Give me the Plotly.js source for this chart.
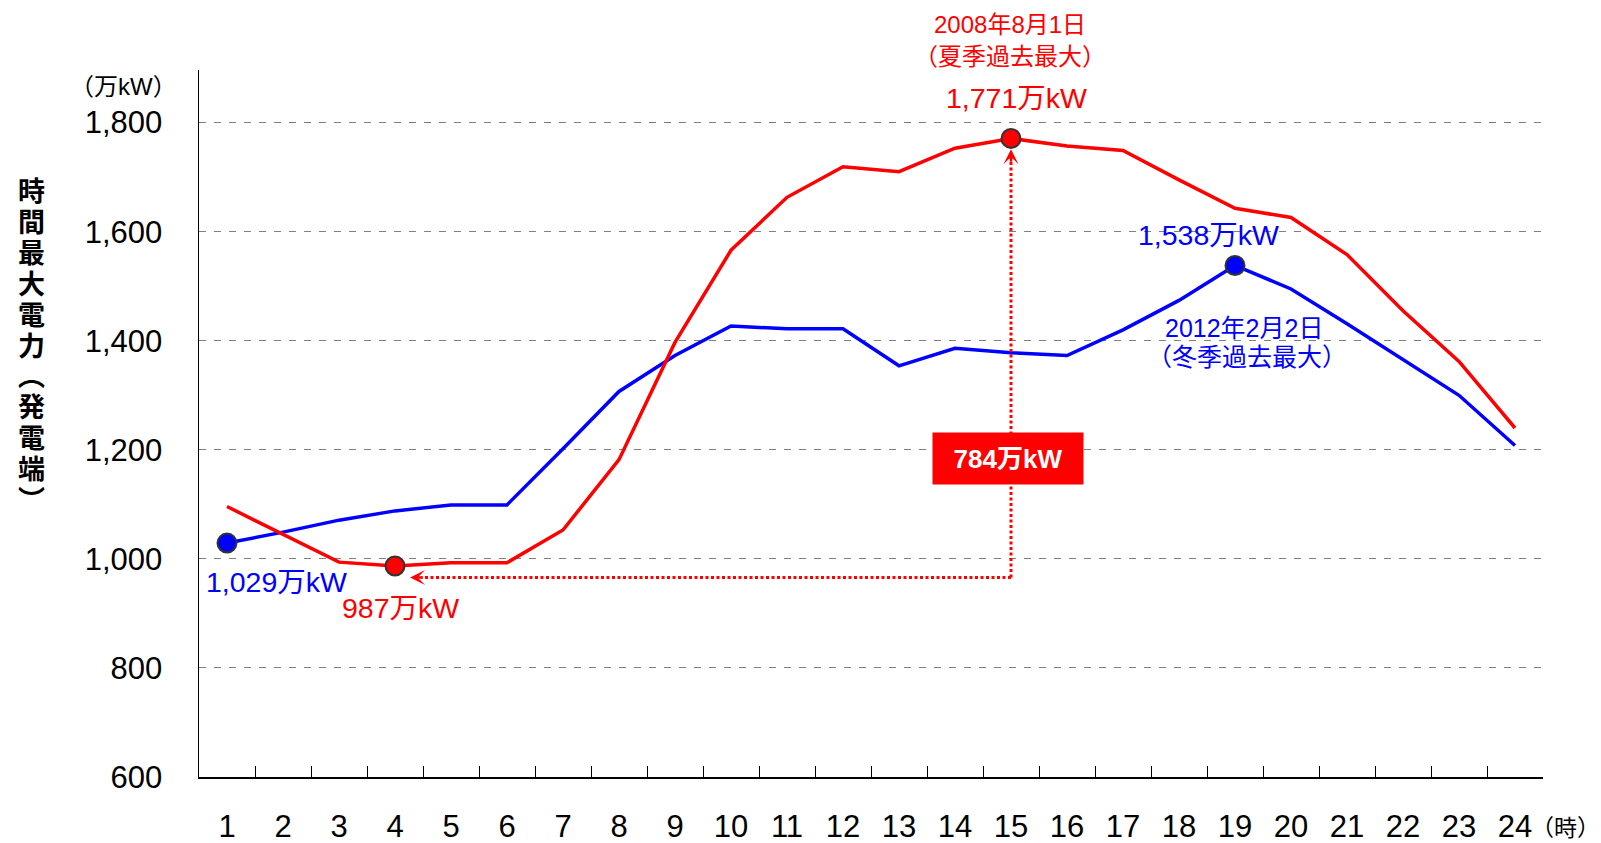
<!DOCTYPE html>
<html>
<head>
<meta charset="utf-8">
<script src="https://cdn.plot.ly/plotly-3.0.1.min.js"></script>
<style>html,body{margin:0;padding:0;background:#fff;}#chart{width:1601px;height:843px;}</style>
</head>
<body>
<div id="chart"></div>
<script>
// ---- data ----
const hours = [1,2,3,4,5,6,7,8,9,10,11,12,13,14,15,16,17,18,19,20,21,22,23,24];
const summer2008 = [1096,1045,994,987,993,993,1053,1182,1397,1566,1663,1719,1710,1753,1771,1757,1749,1695,1643,1626,1558,1455,1362,1240];
const winter2012 = [1029,1049,1071,1088,1099,1099,1202,1307,1373,1427,1422,1422,1354,1386,1378,1373,1420,1474,1538,1495,1431,1365,1300,1208];
const yTickVals = [600,800,1000,1200,1400,1600,1800];
const summerDate = ['2008年8月1日','（夏季過去最大）'];
const winterDate = ['2012年2月2日','（冬季過去最大）'];
const yTitleChars = ['時','間','最','大','電','力','︵','発','電','端','︶'];
const unitLabel = '（万kW）';
const hourUnit = '（時）';
const unitSuffix = '万kW';
const arrowBaseValue = 966;   // level of the dotted horizontal guide
const arrowLeftTip = 4.27;    // hour position of left arrow tip

// ---- derived ----
const argmax = a => a.indexOf(Math.max(...a));
const argmin = a => a.indexOf(Math.min(...a));
const fmt = v => v.toLocaleString('en-US') + unitSuffix;
const sMax = argmax(summer2008), sMin = argmin(summer2008);
const wMax = argmax(winter2012), wMin = argmin(winter2012);
const diff = summer2008[sMax] - summer2008[sMin];

const FONT = "'Liberation Sans', Arial, 'Noto Sans CJK JP', sans-serif";
const L = 199, R = 1543, T = 70, B = 777;
const px = (x, y) => ({x: (x - L) / (R - L), y: (B - y) / (B - T), xref: 'paper', yref: 'paper'});
const RED = '#ff0000', BLUE = '#0000ff';

const traces = [
  {x: hours, y: winter2012, mode: 'lines', line: {color: BLUE, width: 3.5}, hoverinfo: 'x+y', showlegend: false},
  {x: hours, y: summer2008, mode: 'lines', line: {color: RED, width: 3.5}, hoverinfo: 'x+y', showlegend: false},
  {x: [hours[wMin], hours[wMax]], y: [winter2012[wMin], winter2012[wMax]], mode: 'markers',
   marker: {color: BLUE, size: 19, line: {color: '#333333', width: 2}}, showlegend: false},
  {x: [hours[sMin], hours[sMax]], y: [summer2008[sMin], summer2008[sMax]], mode: 'markers',
   marker: {color: RED, size: 19, line: {color: '#333333', width: 2}}, showlegend: false},
  // invisible carrier for the boundary-tick axis
  {x: hours, y: winter2012, xaxis: 'x2', mode: 'lines', line: {width: 0, color: 'rgba(0,0,0,0)'}, hoverinfo: 'skip', showlegend: false}
];

const ann = [];
function txt(pos, text, size, color, extra) {
  ann.push(Object.assign({}, pos, {text: text, showarrow: false, xanchor: 'center', yanchor: 'middle',
    font: {family: FONT, size: size, color: color}}, extra || {}));
}
txt(px(1010, 25), summerDate[0], 24, RED);
txt(px(1010, 57), summerDate[1], 24, RED);
txt(px(1016, 98), fmt(summer2008[sMax]), 28.5, RED);
txt(px(1208, 235), fmt(winter2012[wMax]), 28.5, BLUE);
txt(px(1244, 328), winterDate[0], 25, BLUE);
txt(px(1247, 357), winterDate[1], 25, BLUE);
txt(px(276, 582), fmt(winter2012[wMin]), 28.5, BLUE);
txt(px(400, 608), fmt(summer2008[sMin]), 28.5, RED);
txt(px(1008, 458), '<b>' + fmt(diff) + '</b>', 26, '#ffffff', {bgcolor: RED, width: 146, height: 47, borderpad: 2});
txt(px(123, 86), unitLabel, 24, '#000000');
txt(px(1565, 828), hourUnit, 23, '#000000');
yTitleChars.forEach((c, i) => txt(px(31, 192 + i * 30.9), '<b>' + c + '</b>', 27, '#000000', {height: 30}));

// arrow heads
ann.push({x: hours[sMax], y: summer2008[sMax] - 20, xref: 'x', yref: 'y', showarrow: true, text: '',
  ax: 0, ay: 14, arrowhead: 3, arrowwidth: 2.5, arrowsize: 1, arrowcolor: RED});
ann.push({x: arrowLeftTip, y: arrowBaseValue, xref: 'x', yref: 'y', showarrow: true, text: '',
  ax: 14, ay: 0, arrowhead: 3, arrowwidth: 2.5, arrowsize: 1, arrowcolor: RED});

const shapes = [
  {type: 'line', xref: 'x', yref: 'y', x0: hours[sMax], x1: hours[sMax], y0: arrowBaseValue, y1: summer2008[sMax] - 32,
   line: {color: RED, width: 3, dash: '3px,2.5px'}},
  {type: 'line', xref: 'x', yref: 'y', x0: hours[sMax], x1: arrowLeftTip + 0.2, y0: arrowBaseValue, y1: arrowBaseValue,
   line: {color: RED, width: 3, dash: '3px,2.5px'}}
];

const halfTicks = hours.map(h => h - 0.5).concat([hours[hours.length - 1] + 0.5]);

const layout = {
  width: 1601, height: 843,
  margin: {l: L, r: 1601 - R, t: T, b: 843 - B, pad: 0},
  paper_bgcolor: '#ffffff', plot_bgcolor: '#ffffff',
  font: {family: FONT, color: '#000000'},
  showlegend: false,
  xaxis: {range: [0.5, 24.5], tickvals: hours, ticktext: hours.map(String), ticks: '',
    showgrid: false, zeroline: false, showline: true, linecolor: '#000000', linewidth: 1.5,
    tickfont: {family: FONT, size: 31, color: '#000000'}, ticklabelstandoff: 21, fixedrange: true},
  xaxis2: {overlaying: 'x', anchor: 'y', side: 'bottom', range: [0.5, 24.5], tickvals: halfTicks,
    ticks: 'inside', ticklen: 11, tickwidth: 1, tickcolor: '#000000', showticklabels: false,
    showgrid: false, zeroline: false, showline: false},
  yaxis: {range: [600, 1896.5], tickvals: yTickVals, tickformat: ',d', ticks: '',
    showgrid: true, gridcolor: '#808080', gridwidth: 1, griddash: '7px,8px',
    zeroline: false, showline: true, linecolor: '#000000', linewidth: 1.5,
    tickfont: {family: FONT, size: 31, color: '#000000'}, ticklabelstandoff: 29, fixedrange: true},
  annotations: ann,
  shapes: shapes
};

Plotly.newPlot('chart', traces, layout, {displayModeBar: false, staticPlot: true});
</script>
</body>
</html>
